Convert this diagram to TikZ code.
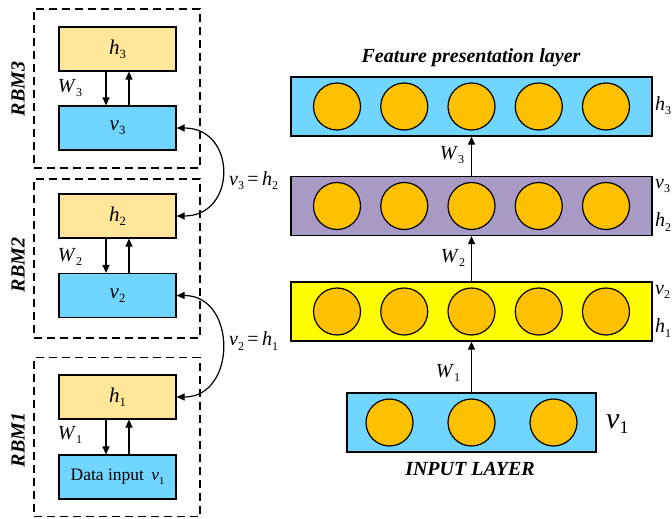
\documentclass[tikz,border=0pt]{standalone}
\usepackage{fontspec}
\setmainfont{Liberation Serif}
\usetikzlibrary{arrows.meta}
\definecolor{lblue}{RGB}{112,214,255}
\definecolor{tanc}{RGB}{255,230,153}
\definecolor{lpurple}{RGB}{168,154,196}
\definecolor{goldc}{RGB}{255,192,0}
\definecolor{ylw}{RGB}{255,255,0}
\newcommand{\iv}[2]{\textit{#1}{\fontsize{0.6em}{0.6em}\selectfont\raisebox{-0.35em}{#2}}}
\begin{document}
\begin{tikzpicture}[x=1pt,y=-1pt,
  box/.style={draw, line width=1.2pt, minimum width=117pt, minimum height=44pt, inner sep=0pt, font=\fontsize{21}{22}\selectfont},
  hbox/.style={box, fill=tanc},
  vbox/.style={box, fill=lblue},
  rbm/.style={draw, dash pattern=on 8pt off 5pt, line width=1.3pt, minimum width=166pt, minimum height=159pt, inner sep=0pt},
  rbmlab/.style={rotate=90, font=\bfseries\itshape\fontsize{20}{20}\selectfont},
  arr/.style={-{Triangle[length=8pt,width=7pt]}, line width=1.2pt},
  darr/.style={{Triangle[length=8pt,width=7pt]}-{Triangle[length=8pt,width=7pt]}, line width=1.2pt},
  layer/.style={draw, line width=1.3pt, minimum height=59pt, inner sep=0pt},
  unit/.style={circle, draw, fill=goldc, line width=1.2pt, minimum size=47pt, inner sep=0pt},
  wlab/.style={font=\fontsize{20}{20}\selectfont, inner sep=0pt},
  sidelab/.style={anchor=west, font=\fontsize{20}{20}\selectfont, inner sep=0pt},
  title/.style={font=\bfseries\itshape\fontsize{20}{20}\selectfont}
]
\useasboundingbox (0,0) rectangle (672,519);

% ---- left: RBM stack ----
\node[rbm] (R3) at (117,88.5) {};
\node[rbm] (R2) at (117,258.5) {};
\node[rbm] (R1) at (117,437) {};
\node[rbmlab] (t3) at (18,89) {RBM3};
\node[rbmlab] (t2) at (18,265) {RBM2};
\node[rbmlab] (t1) at (18,440) {RBM1};

\node[hbox] (h3) at (117.5,49) {\iv{h}{3}};
\node[vbox] (v3) at (117.5,128) {\iv{v}{3}};
\node[hbox] (h2) at (117.5,216) {\iv{h}{2}};
\node[vbox] (v2) at (117.5,295.5) {\iv{v}{2}};
\node[hbox] (h1) at (117.5,397) {\iv{h}{1}};
\node[vbox, font=\fontsize{17.5}{18}\selectfont] (v1) at (117.5,477) {Data input \,\iv{v}{1}};

\foreach \a/\b in {h3/v3,h2/v2,h1/v1}{
  \draw[arr] ([xshift=-11.5pt]\a.south) -- ([xshift=-11.5pt]\b.north);
  \draw[arr] ([xshift=11.5pt]\b.north) -- ([xshift=11.5pt]\a.south);
}
\node[wlab] (w3l) at (70,88) {\iv{W}{3}};
\node[wlab] (w2l) at (70,257) {\iv{W}{2}};
\node[wlab] (w1l) at (70,435) {\iv{W}{1}};

\draw[darr] (v3.east) .. controls (237,128) and (237,216) .. (h2.east);
\draw[darr] (v2.east) .. controls (237,295.5) and (237,397) .. (h1.east);
\node[anchor=west, inner sep=0pt, font=\fontsize{20}{20}\selectfont] (e3) at (229,181) {\iv{v}{3}\,=\,\iv{h}{2}};
\node[anchor=west, inner sep=0pt, font=\fontsize{20}{20}\selectfont] (e2) at (229,341) {\iv{v}{2}\,=\,\iv{h}{1}};

% ---- right: deep network ----
\node[title] (ft) at (471,58) {Feature presentation layer};
\node[layer, fill=lblue, minimum width=361pt] (L3) at (471.5,106.5) {};
\node[layer, fill=lpurple, minimum width=361pt] (L2) at (471.5,206) {};
\node[layer, fill=ylw, minimum width=361pt] (L1) at (471.5,311.5) {};
\node[layer, fill=lblue, minimum width=249pt] (L0) at (471.5,422.5) {};
\foreach \i in {1,...,5}{
  \node[unit] (a\i) at (471.5+67.25*\i-201.75,106.5) {};
  \node[unit] (b\i) at (471.5+67.25*\i-201.75,206) {};
  \node[unit] (c\i) at (471.5+67.25*\i-201.75,311.5) {};
}
\foreach \i in {1,2,3}{
  \node[unit] (d\i) at (471.5+82*\i-164,422.5) {};
}
\draw[arr] (L2.north) -- (L3.south);
\draw[arr] (L1.north) -- (L2.south);
\draw[arr] (L0.north) -- (L1.south);
\node[wlab] (rw3) at (452,155) {\iv{W}{3}};
\node[wlab] (rw2) at (453,258) {\iv{W}{2}};
\node[wlab] (rw1) at (448,373) {\iv{W}{1}};

\node[sidelab] (s3) at (655,106) {\iv{h}{3}};
\node[sidelab] (s3v) at (655,186) {\iv{v}{3}};
\node[sidelab] (s2h) at (655,222) {\iv{h}{2}};
\node[sidelab] (s2v) at (655,292) {\iv{v}{2}};
\node[sidelab] (s1h) at (655,328) {\iv{h}{1}};
\node[anchor=west, inner sep=0pt] (s1v) at (606,424) {{\fontsize{30}{30}\selectfont\itshape v}{\fontsize{18}{18}\selectfont\raisebox{-5pt}{1}}};
\node[title] (it) at (470,469) {INPUT LAYER};
\end{tikzpicture}
\end{document}
